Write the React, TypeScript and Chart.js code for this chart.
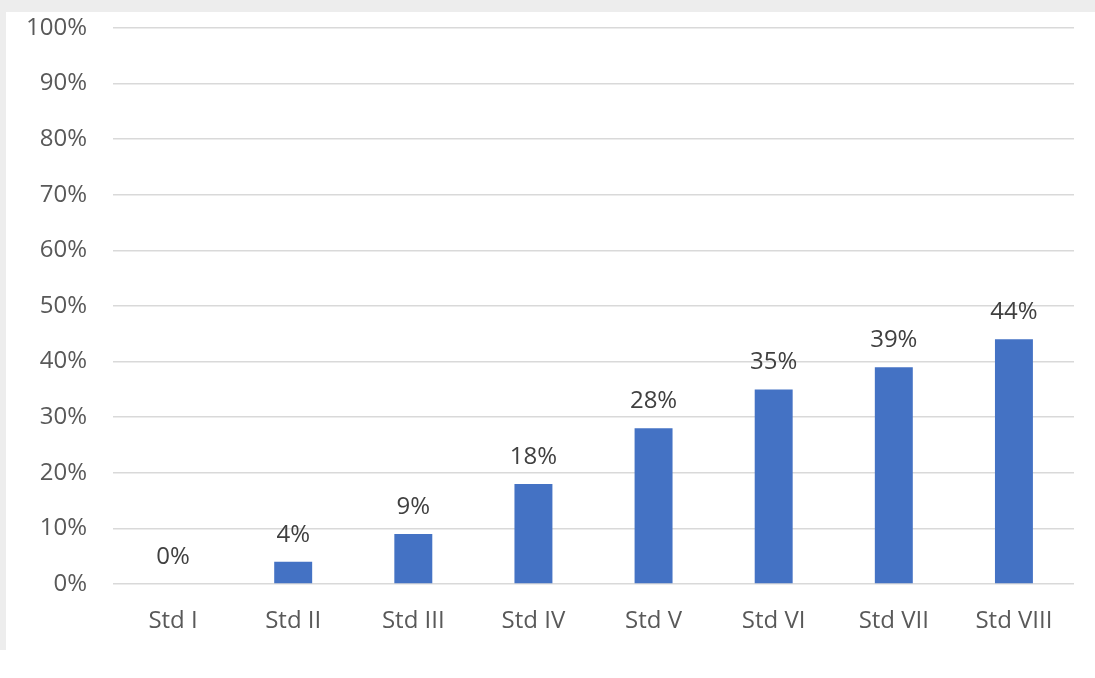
import React, { useEffect, useRef } from "react";
import { Chart, registerables } from "chart.js";

Chart.register(...registerables);

const categories = ["Std I", "Std II", "Std III", "Std IV", "Std V", "Std VI", "Std VII", "Std VIII"];
const values = [0, 4, 9, 18, 28, 35, 39, 44];
const valueLabels = ["0%", "4%", "9%", "18%", "28%", "35%", "39%", "44%"];

const FONT = "'Open Sans', 'DejaVu Sans', sans-serif";
const TEXT = "#595959";

const labelPlugin = {
  id: "barLabels",
  afterDatasetsDraw(chart: any) {
    const ctx = chart.ctx;
    const meta = chart.getDatasetMeta(0);
    ctx.save();
    ctx.font = `24px ${FONT}`;
    ctx.fillStyle = "#404040";
    ctx.textAlign = "center";
    ctx.textBaseline = "middle";
    meta.data.forEach((bar: any, i: number) => {
      ctx.fillText(valueLabels[i], bar.x, bar.y - 27);
    });
    ctx.restore();
  },
};

export default function App() {
  const ref = useRef<HTMLCanvasElement>(null);
  useEffect(() => {
    if (!ref.current) return;
    const chart = new Chart(ref.current, {
      type: "bar",
      data: {
        labels: categories,
        datasets: [
          {
            data: values,
            backgroundColor: "#4472C4",
            barPercentage: 0.316,
            categoryPercentage: 1,
          },
        ],
      },
      options: {
        responsive: false,
        animation: false,
        layout: { padding: { left: 0, top: 28, right: 21, bottom: 0 } },
        plugins: { legend: { display: false }, tooltip: { enabled: false } },
        scales: {
          x: {
            grid: { display: false, drawTicks: false },
            border: { display: false },
            ticks: { color: TEXT, font: { family: FONT, size: 24 }, padding: 23 },
            afterFit: (s: any) => {
              s.height = 94;
              s.paddingLeft = 0;
              s.paddingRight = 0;
            },
          },
          y: {
            min: 0,
            max: 100,
            grid: { color: "#d9d9d9", lineWidth: 1.5, drawTicks: false },
            border: { display: false },
            ticks: {
              stepSize: 10,
              color: TEXT,
              font: { family: FONT, size: 24 },
              padding: 26,
              callback: (v: any) => `${v}%`,
            },
            afterFit: (s: any) => {
              s.width = 113;
              s.paddingTop = 0;
              s.paddingBottom = 0;
            },
          },
        },
      },
      plugins: [labelPlugin],
    });
    return () => chart.destroy();
  }, []);

  return (
    <div style={{ position: "absolute", left: 0, top: 0, width: 1095, height: 678, background: "#ffffff", overflow: "hidden" }}>
      <div style={{ position: "absolute", left: 0, top: 0, width: 1095, height: 12, background: "#ededed" }} />
      <div style={{ position: "absolute", left: 0, top: 0, width: 6, height: 650, background: "#ededed" }} />
      <canvas ref={ref} width={1095} height={678} style={{ position: "absolute", left: 0, top: 0 }} />
    </div>
  );
}
